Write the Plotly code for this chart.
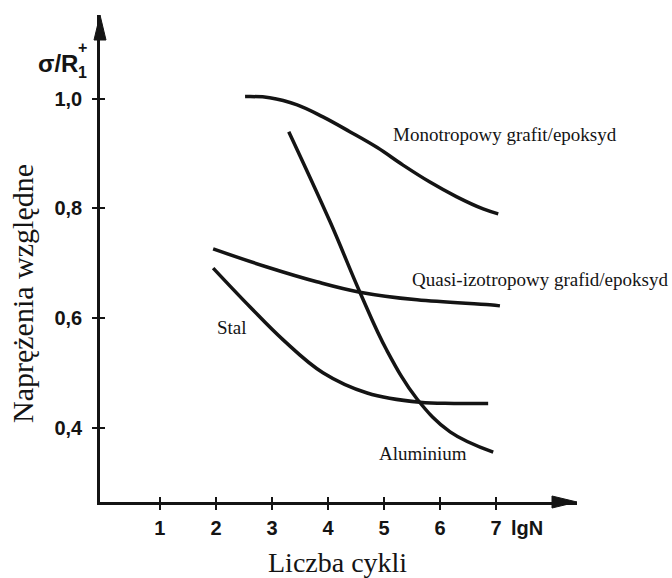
import plotly.graph_objects as go

# ---- data (lgN, sigma/R1+) ----
mono_x = [2.52, 2.96, 3.45, 3.91, 4.39, 4.88, 5.34, 5.82, 6.30, 6.77, 7.04]
mono_y = [1.004, 1.002, 0.989, 0.967, 0.940, 0.911, 0.879, 0.848, 0.821, 0.799, 0.790]

alu_x = [3.30, 4.04, 4.57, 5.05, 5.59, 6.18, 6.95]
alu_y = [0.940, 0.775, 0.647, 0.541, 0.452, 0.392, 0.355]

quasi_x = [1.95, 2.91, 3.80, 4.57, 5.59, 6.89, 7.07]
quasi_y = [0.726, 0.693, 0.666, 0.647, 0.633, 0.624, 0.622]

stal_x = [1.95, 2.61, 3.20, 3.91, 4.70, 5.64, 6.25, 6.86]
stal_y = [0.691, 0.620, 0.560, 0.500, 0.463, 0.446, 0.444, 0.444]

x_ticks = [1, 2, 3, 4, 5, 6, 7]
x_ticktext = ["1", "2", "3", "4", "5", "6", "7"]
y_ticks = [0.4, 0.6, 0.8, 1.0]
y_ticktext = ["0,4", "0,6", "0,8", "1,0"]

labels = ["Monotropowy grafit/epoksyd", "Quasi-izotropowy grafid/epoksyd", "Stal", "Aluminium"]
label_x = [7.16, 7.79, 2.29, 5.70]
label_y = [0.934, 0.671, 0.582, 0.353]

X_RANGE = [-0.07, 8.446]
Y_RANGE = [0.264, 1.153]

INK = "#141414"
SERIF = "Liberation Serif, Times New Roman, serif"
SANS = "Liberation Sans, Arial, sans-serif"

fig = go.Figure()
for xs, ys in [(mono_x, mono_y), (alu_x, alu_y), (quasi_x, quasi_y), (stal_x, stal_y)]:
    fig.add_trace(go.Scatter(x=xs, y=ys, mode="lines",
                             line=dict(color=INK, width=3.5, shape="spline", smoothing=1.1),
                             hoverinfo="skip", showlegend=False))

# invisible trace on overlay axes to draw the inner half of the crossing ticks
fig.add_trace(go.Scatter(x=[X_RANGE[0]], y=[Y_RANGE[0]], xaxis="x2", yaxis="y2",
                         mode="markers", marker=dict(opacity=0), hoverinfo="skip",
                         showlegend=False))

for t, x, y in zip(labels, label_x, label_y):
    fig.add_annotation(x=x, y=y, text=t, showarrow=False,
                       xanchor="center", yanchor="middle",
                       font=dict(family=SERIF, size=19, color=INK))

common_x = dict(range=X_RANGE, tickvals=x_ticks, showgrid=False, zeroline=False,
                tickwidth=2, tickcolor=INK, ticklen=5)
common_y = dict(range=Y_RANGE, tickvals=y_ticks, showgrid=False, zeroline=False,
                tickwidth=2, tickcolor=INK, ticklen=5)

fig.update_layout(
    width=672, height=578,
    margin=dict(l=100, r=95, t=15, b=76),
    paper_bgcolor="white", plot_bgcolor="white",
    xaxis=dict(**common_x, ticktext=x_ticktext, ticks="outside",
               showline=True, linecolor=INK, linewidth=2.5,
               tickfont=dict(family=SANS, size=20, color=INK, weight="bold"),
               ticklabelstandoff=1),
    yaxis=dict(**common_y, ticktext=y_ticktext, ticks="outside",
               showline=True, linecolor=INK, linewidth=2.5,
               tickfont=dict(family=SANS, size=20, color=INK, weight="bold"),
               ticklabelstandoff=6),
    xaxis2=dict(**common_x, overlaying="x", anchor="y2", ticks="inside",
                showticklabels=False, showline=False, side="bottom"),
    yaxis2=dict(**common_y, overlaying="y", anchor="x2", ticks="inside",
                showticklabels=False, showline=False, side="left"),
)


def paper_x(px):
    return (px - 100) / 477


def paper_y(py):
    return (502 - py) / 487


def note(text, x, y, font, xref="paper", textangle=0):
    fig.add_annotation(xref=xref, yref="paper", x=x, y=y, text=text,
                       showarrow=False, xanchor="center", yanchor="middle",
                       textangle=textangle, font=font)


# axis titles / units
note("Liczba cykli", paper_x(337), paper_y(562), dict(family=SERIF, size=28, color=INK))
note("Naprężenia względne", paper_x(22), paper_y(294), dict(family=SERIF, size=30, color=INK),
     textangle=-90)
note("lgN", 7.55, paper_y(528), dict(family=SANS, size=20, color=INK, weight="bold"), xref="x")
note("σ/R", paper_x(58), paper_y(63), dict(family=SANS, size=24, color=INK, weight="bold"))
note("+", paper_x(82), paper_y(48), dict(family=SANS, size=16, color=INK, weight="bold"))
note("1", paper_x(82), paper_y(72), dict(family=SANS, size=16, color=INK, weight="bold"))

# arrowheads at the axis ends
ax_len, ax_half = 25 / 477, 6 / 487
fig.add_shape(type="path", xref="paper", yref="paper",
              path=f"M 1 0 L {1 - ax_len} {ax_half} L {1 - ax_len} {-ax_half} Z",
              fillcolor=INK, line=dict(color=INK, width=1))
ay_len, ay_half = 25 / 487, 6 / 477
fig.add_shape(type="path", xref="paper", yref="paper",
              path=f"M 0 1 L {ay_half} {1 - ay_len} L {-ay_half} {1 - ay_len} Z",
              fillcolor=INK, line=dict(color=INK, width=1))

fig.write_html("out.html", config={"displayModeBar": False},
               post_script="document.body.style.margin='0';")
